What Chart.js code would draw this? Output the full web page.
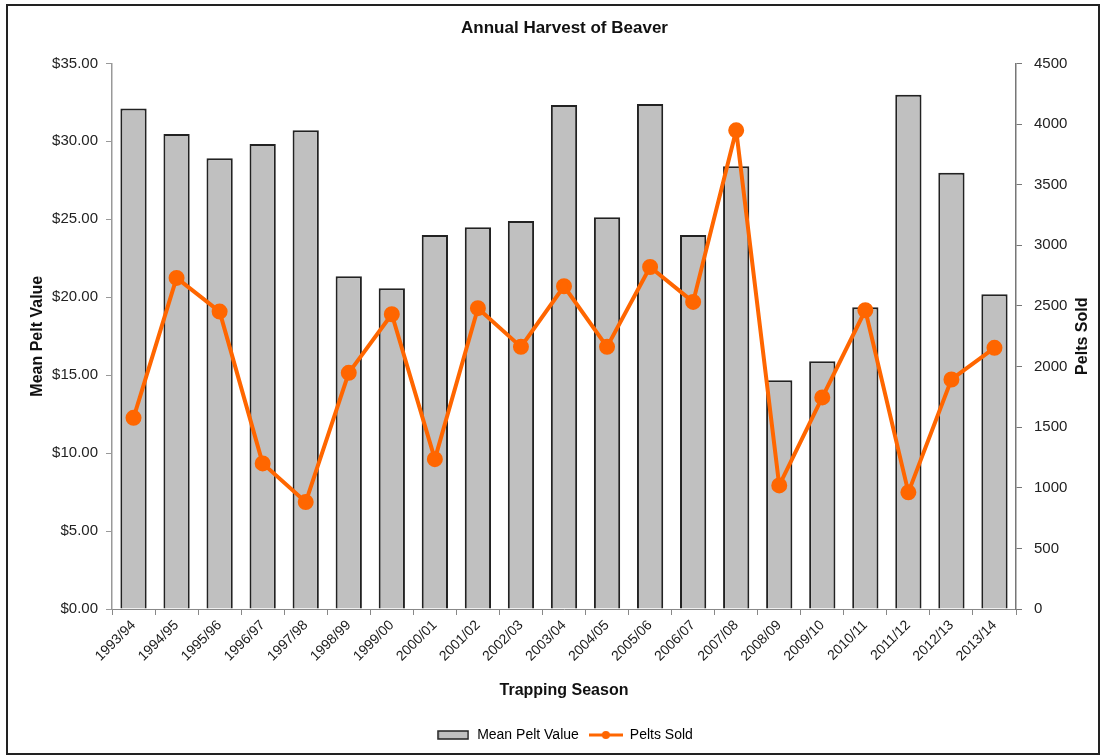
<!DOCTYPE html>
<html>
<head>
<meta charset="utf-8">
<script src="https://cdn.jsdelivr.net/npm/chart.js@4/dist/chart.umd.min.js"></script>
<style>
  html, body { margin: 0; padding: 0; background: #fff; }
  #wrap { width: 1101px; height: 756px; }
</style>
</head>
<body>
<div id="wrap"><canvas id="harvestChart" width="1101" height="756"></canvas></div>
<script>
// data
const seasons = ['1993/94', '1994/95', '1995/96', '1996/97', '1997/98', '1998/99', '1999/00',
  '2000/01', '2001/02', '2002/03', '2003/04', '2004/05', '2005/06', '2006/07', '2007/08',
  '2008/09', '2009/10', '2010/11', '2011/12', '2012/13', '2013/14'];
const meanPeltValue = [32.10, 30.47, 28.91, 29.83, 30.71, 21.35, 20.58, 23.99, 24.49, 24.89,
  32.33, 25.13, 32.39, 23.99, 28.40, 14.68, 15.90, 19.36, 32.99, 27.99, 20.19];
const peltsSold = [1577, 2731, 2453, 1201, 882, 1948, 2431, 1236, 2481, 2162, 2662,
  2162, 2821, 2533, 3948, 1019, 1745, 2464, 962, 1893, 2154];

const FONT = '"Liberation Sans", Arial, sans-serif';
const ORANGE = '#ff6600';
const BAR_FILL = '#c0c0c0';
const BAR_EDGE = '#222';

// legend swatches
const barSwatch = document.createElement('canvas');
barSwatch.width = 32; barSwatch.height = 10;
(function () {
  const c = barSwatch.getContext('2d');
  c.fillStyle = BAR_FILL; c.fillRect(1, 1, 30, 8);
  c.strokeStyle = BAR_EDGE; c.lineWidth = 1.5; c.strokeRect(1, 1, 30, 8);
})();
const lineSwatch = document.createElement('canvas');
lineSwatch.width = 34; lineSwatch.height = 12;
(function () {
  const c = lineSwatch.getContext('2d');
  c.strokeStyle = ORANGE; c.lineWidth = 3;
  c.beginPath(); c.moveTo(0, 6); c.lineTo(34, 6); c.stroke();
  c.fillStyle = ORANGE;
  c.beginPath(); c.arc(17, 6, 4, 0, Math.PI * 2); c.fill();
})();

// frame and right-hand axis title
const extras = {
  id: 'extras',
  afterDraw(chart) {
    const ctx = chart.ctx;
    const a = chart.chartArea;
    ctx.save();
    ctx.strokeStyle = '#222';
    ctx.lineWidth = 2;
    ctx.strokeRect(7, 5, 1092, 749);
    ctx.translate(1083, (a.top + a.bottom) / 2);
    ctx.rotate(-Math.PI / 2);
    ctx.font = 'bold 16px ' + FONT;
    ctx.fillStyle = '#111';
    ctx.textAlign = 'center';
    ctx.textBaseline = 'middle';
    ctx.fillText('Pelts Sold', 0, 0);
    ctx.restore();
  }
};

const ctx = document.getElementById('harvestChart').getContext('2d');
new Chart(ctx, {
  type: 'bar',
  data: {
    labels: seasons,
    datasets: [{
      label: 'Mean Pelt Value',
      data: meanPeltValue,
      yAxisID: 'y',
      backgroundColor: BAR_FILL,
      borderColor: BAR_EDGE,
      borderWidth: 2,
      barPercentage: 0.61,
      categoryPercentage: 1,
      order: 1
    }, {
      type: 'line',
      label: 'Pelts Sold',
      data: peltsSold,
      yAxisID: 'y1',
      borderColor: ORANGE,
      backgroundColor: ORANGE,
      borderWidth: 4,
      borderJoinStyle: 'round',
      borderCapStyle: 'round',
      pointRadius: 6,
      pointBackgroundColor: ORANGE,
      pointBorderColor: ORANGE,
      tension: 0,
      order: 0
    }]
  },
  options: {
    responsive: false,
    animation: false,
    layout: { padding: { top: 5, left: 28, right: 0, bottom: 4 } },
    plugins: {
      title: {
        display: true,
        text: 'Annual Harvest of Beaver',
        color: '#111',
        font: { family: FONT, size: 17, weight: 'bold' },
        padding: { top: 13, bottom: 25 }
      },
      legend: {
        position: 'bottom',
        labels: {
          usePointStyle: true,
          pointStyleWidth: 34,
          color: '#222',
          font: { family: FONT, size: 14 },
          padding: 10,
          generateLabels(chart) {
            return chart.data.datasets.map((ds, i) => ({
              text: ds.label,
              datasetIndex: i,
              pointStyle: i === 0 ? barSwatch : lineSwatch,
              fillStyle: ds.backgroundColor,
              strokeStyle: ds.borderColor,
              lineWidth: 0,
              hidden: false
            }));
          }
        }
      },
      tooltip: { enabled: false }
    },
    scales: {
      x: {
        afterFit(scale) { scale.height = 109; },
        grid: { display: true, drawOnChartArea: false, drawTicks: true, tickLength: 6, color: '#888' },
        border: { display: true, color: '#888', width: 1 },
        ticks: {
          autoSkip: false, minRotation: 45, maxRotation: 45, padding: 2,
          color: '#1a1a1a', font: { family: FONT, size: 14 }
        },
        title: {
          display: true, text: 'Trapping Season', color: '#111',
          font: { family: FONT, size: 16, weight: 'bold' },
          padding: { top: 0, bottom: 18 }
        }
      },
      y: {
        position: 'left',
        min: 0, max: 35,
        afterFit(scale) { scale.width = 84; },
        grid: { display: true, drawOnChartArea: false, drawTicks: true, tickLength: 6, color: '#999' },
        border: { display: true, color: '#999', width: 1.5 },
        ticks: {
          stepSize: 5, padding: 8, color: '#222',
          font: { family: FONT, size: 15 },
          callback: v => '$' + Number(v).toFixed(2)
        },
        title: {
          display: true, text: 'Mean Pelt Value', color: '#111',
          font: { family: FONT, size: 16, weight: 'bold' },
          padding: { top: 0, bottom: 0 }
        }
      },
      y1: {
        position: 'right',
        min: 0, max: 4500,
        afterFit(scale) { scale.width = 85; },
        grid: { display: true, drawOnChartArea: false, drawTicks: true, tickLength: 6, color: '#777' },
        border: { display: true, color: '#777', width: 1.5 },
        ticks: {
          stepSize: 500, padding: 12, color: '#222',
          font: { family: FONT, size: 15 },
          callback: v => String(v)
        },
        title: { display: false }
      }
    }
  },
  plugins: [extras]
});
</script>
</body>
</html>
